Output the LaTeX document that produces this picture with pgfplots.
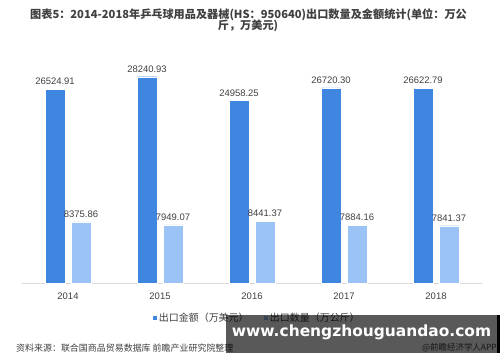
\documentclass[border=0pt]{standalone}
\usepackage{fontspec}
\setmainfont{Liberation Sans}
\newfontfamily\cjk{Noto Sans CJK SC}
\newfontfamily\wm{DejaVu Sans}
\usepackage{pgfplots}
\pgfplotsset{compat=1.18}
\definecolor{darkbar}{HTML}{3F86E1}
\definecolor{lightbar}{HTML}{9CC3F5}
\definecolor{txt}{HTML}{404040}
\begin{document}
\begin{tikzpicture}[x=1bp,y=1bp]
\path[use as bounding box, fill=white] (0,0) rectangle (500,362);
\node[text=txt, font=\cjk\bfseries\fontsize{11.2}{12}\selectfont] at (248.5,347) {图表5：2014-2018年乒乓球用品及器械(HS：950640)出口数量及金额统计(单位：万公};
\node[text=txt, font=\cjk\bfseries\fontsize{11.2}{12}\selectfont] at (248,336) {斤，万美元)};
\begin{axis}[
  at={(22bp,79bp)}, anchor=south west, scale only axis,
  width=460bp, height=219.15bp,
  xmin=-0.5, xmax=4.5, ymin=0, ymax=30000,
  axis y line=none, axis x line=bottom,
  x axis line style={-, draw=black!15},
  xtick={0,1,2,3,4}, xticklabels={2014,2015,2016,2017,2018},
  major tick length=0,
  xticklabel style={font=\fontsize{9.5}{10}\selectfont, text=txt, yshift=-6bp},
  ybar, bar width=20bp,
  point meta=explicit symbolic,
  nodes near coords={\pgfplotspointmeta},
  every node near coord/.append style={font=\fontsize{9.5}{10}\selectfont, text=txt, yshift=1bp},
  legend columns=2,
  legend style={at={(0.51,-0.16)}, anchor=center, draw=none, fill=none,
    font=\cjk\fontsize{10}{11}\selectfont, text=txt,
    /tikz/every even column/.append style={column sep=12bp}},
  legend image code/.code={\fill[#1] (0bp,-2.5bp) rectangle (5bp,2.5bp);},
]
\addplot[fill=darkbar, draw=white, line width=0.4pt, bar shift=-13bp] coordinates {
 (0,26524.91) [26524.91] (1,28240.93) [28240.93] (2,24958.25) [24958.25] (3,26720.30) [26720.30] (4,26622.79) [26622.79]};
\addplot[fill=lightbar, draw=white, line width=0.4pt, bar shift=13bp] coordinates {
 (0,8375.86) [8375.86] (1,7949.07) [7949.07] (2,8441.37) [8441.37] (3,7884.16) [7884.16] (4,7841.37) [7841.37]};
\legend{出口金额（万美元）,出口数量（万公斤）}
\end{axis}
\node[anchor=west, text=txt, font=\cjk\fontsize{9}{10}\selectfont, inner sep=0] at (16,14) {资料来源：联合国商品贸易数据库 前瞻产业研究院整理};
\node[anchor=east, text=txt, font=\cjk\fontsize{8.5}{10}\selectfont, inner sep=0] at (497,14) {@前瞻经济学人APP};
\fill[black, opacity=0.65] (226,9) rectangle (497,47);
\fill[black] (497,9) rectangle (500,47);
\node[text=white, font=\wm\bfseries\fontsize{15.5}{16}\selectfont] at (361.5,30) {www.chengzhouguandao.com};
\end{tikzpicture}
\end{document}
